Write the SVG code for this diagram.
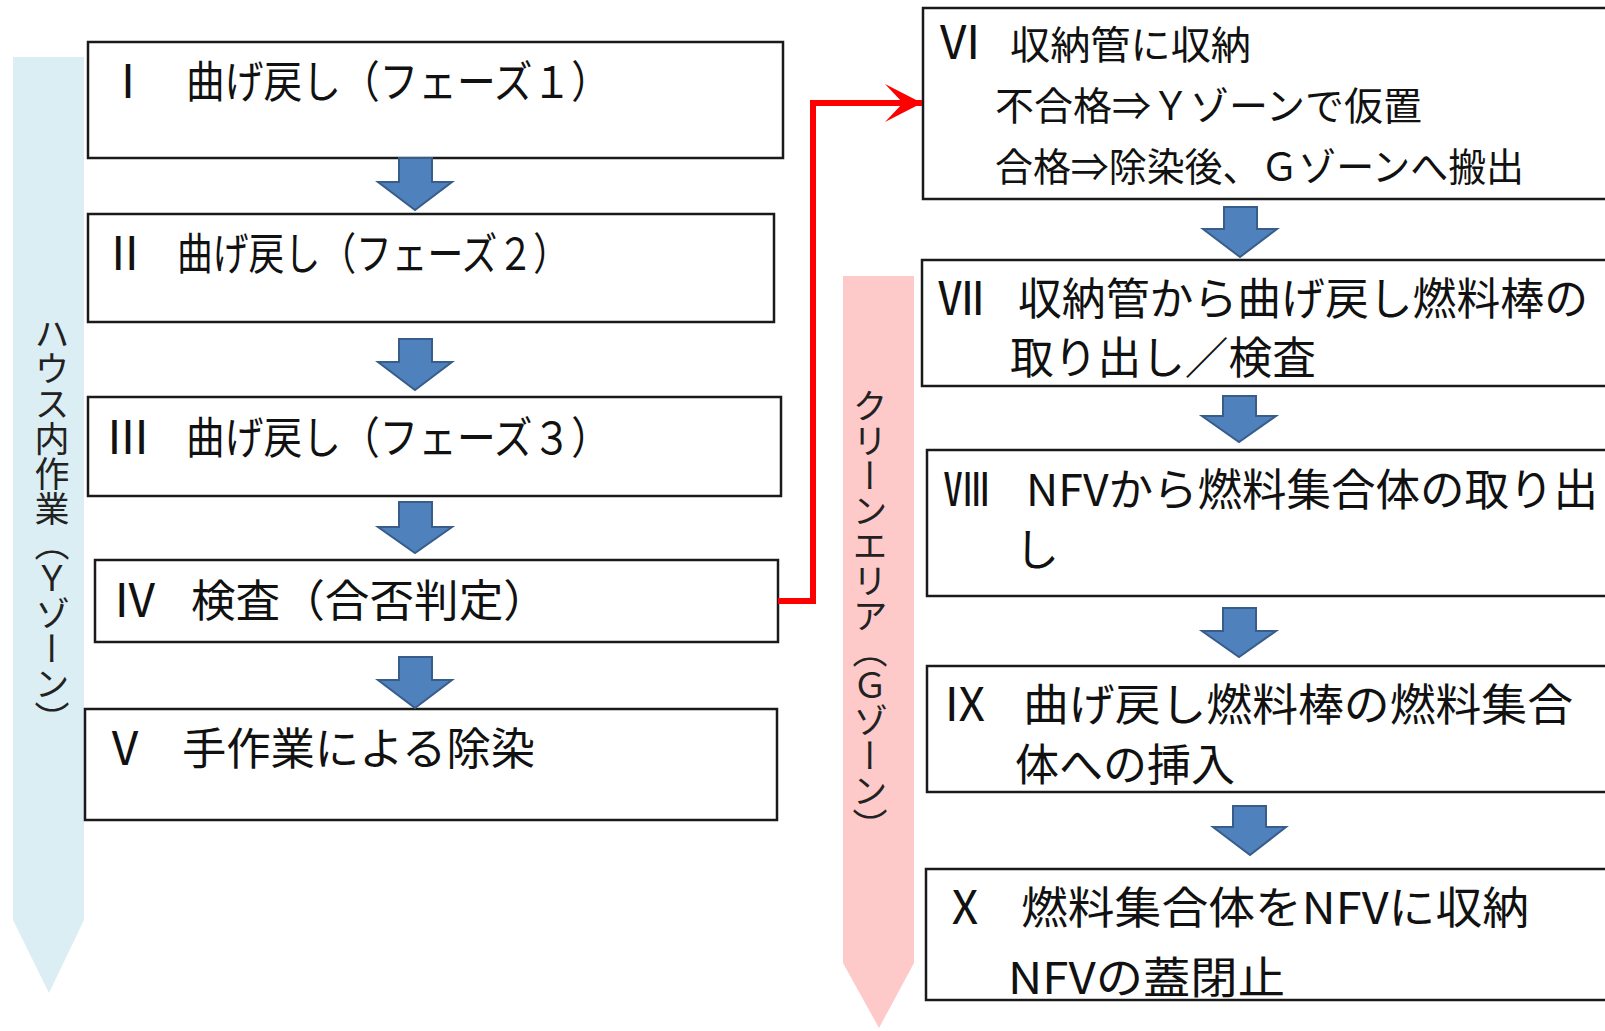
<svg xmlns="http://www.w3.org/2000/svg" width="1605" height="1031" viewBox="0 0 1605 1031">
<style>
  .box { fill: #ffffff; stroke: #1a1a1a; stroke-width: 2.5; }
  .t { font-family: "Noto Sans CJK JP", "Noto Sans", sans-serif; fill: #111111; font-size: 44px; }
  .s { font-size: 39px; }
  .num { text-anchor: middle; font-size: 46px; }
  .vt { font-family: "Noto Sans CJK JP", sans-serif; fill: #222222; font-size: 35px; writing-mode: vertical-rl; }
  .barrow { fill: #4F81BD; stroke: #385D8A; stroke-width: 2; }
  .red { fill: none; stroke: #FF0000; stroke-width: 6; }
</style>
<defs>
  <marker id="redHead" viewBox="0 0 38 40" refX="37" refY="20" markerWidth="38" markerHeight="40" markerUnits="userSpaceOnUse" orient="auto">
    <path d="M0,1 L37,20 L0,39 L18,20 Z" fill="#FF0000"/>
  </marker>
</defs>
<rect width="1605" height="1031" fill="#ffffff"/>

<g id="zone-y">
  <polygon points="13,57 84,57 84,920 49,993 13,920" fill="#DBEEF4"/>
  <text class="vt" x="52" y="316">ハウス内作業（Ｙゾーン）</text>
</g>
<g id="zone-g">
  <polygon points="843,276 914,276 914,963 879,1028 843,963" fill="#FDC9C9"/>
  <text class="vt" x="870" y="388">クリーンエリア（Ｇゾーン）</text>
</g>

<g id="node-1">
  <rect class="box" x="88" y="42" width="695" height="116"/>
  <text class="t num" x="128" y="98">Ⅰ</text>
  <text class="t" x="186" y="98" textLength="424" lengthAdjust="spacingAndGlyphs">曲げ戻し（フェーズ１）</text>
</g>
<g id="node-2">
  <rect class="box" x="88" y="214" width="686" height="108"/>
  <text class="t num" x="125" y="270">Ⅱ</text>
  <text class="t" x="177" y="270" textLength="392" lengthAdjust="spacingAndGlyphs">曲げ戻し（フェーズ２）</text>
</g>
<g id="node-3">
  <rect class="box" x="88" y="397" width="693" height="99"/>
  <text class="t num" x="128" y="454">Ⅲ</text>
  <text class="t" x="186" y="454" textLength="424" lengthAdjust="spacingAndGlyphs">曲げ戻し（フェーズ３）</text>
</g>
<g id="node-4">
  <rect class="box" x="95" y="560" width="683" height="82"/>
  <text class="t num" x="135" y="617">Ⅳ</text>
  <text class="t" x="191" y="617" textLength="357" lengthAdjust="spacingAndGlyphs">検査（合否判定）</text>
</g>
<g id="node-5">
  <rect class="box" x="85" y="709" width="692" height="111"/>
  <text class="t num" x="125" y="765">Ⅴ</text>
  <text class="t" x="182" y="765" textLength="353" lengthAdjust="spacingAndGlyphs">手作業による除染</text>
</g>

<g id="node-6">
  <rect class="box" x="923" y="8" width="700" height="191"/>
  <text class="t s num" x="960" y="59">Ⅵ</text>
  <text class="t s" x="1010" y="59" textLength="241" lengthAdjust="spacingAndGlyphs">収納管に収納</text>
  <text class="t s" x="995" y="120" textLength="427" lengthAdjust="spacingAndGlyphs">不合格⇒Ｙゾーンで仮置</text>
  <text class="t s" x="995" y="181" textLength="529" lengthAdjust="spacingAndGlyphs">合格⇒除染後、Ｇゾーンへ搬出</text>
</g>
<g id="node-7">
  <rect class="box" x="922" y="260" width="700" height="126"/>
  <text class="t num" x="961" y="315">Ⅶ</text>
  <text class="t" x="1018" y="315" textLength="570" lengthAdjust="spacingAndGlyphs">収納管から曲げ戻し燃料棒の</text>
  <text class="t" x="1010" y="374" textLength="306" lengthAdjust="spacingAndGlyphs">取り出し／検査</text>
</g>
<g id="node-8">
  <rect class="box" x="927" y="450" width="700" height="146"/>
  <text class="t num" x="967" y="506">Ⅷ</text>
  <text class="t" x="1026" y="506" textLength="572" lengthAdjust="spacingAndGlyphs">NFVから燃料集合体の取り出</text>
  <text class="t" x="1015" y="566">し</text>
</g>
<g id="node-9">
  <rect class="box" x="927" y="666" width="700" height="126"/>
  <text class="t num" x="965" y="721">Ⅸ</text>
  <text class="t" x="1023" y="721" textLength="550" lengthAdjust="spacingAndGlyphs">曲げ戻し燃料棒の燃料集合</text>
  <text class="t" x="1015" y="781" textLength="220" lengthAdjust="spacingAndGlyphs">体への挿入</text>
</g>
<g id="node-10">
  <rect class="box" x="926" y="869" width="700" height="131"/>
  <text class="t num" x="965" y="924">Ⅹ</text>
  <text class="t" x="1021" y="924" textLength="508" lengthAdjust="spacingAndGlyphs">燃料集合体をNFVに収納</text>
  <text class="t" x="1008" y="994" textLength="277" lengthAdjust="spacingAndGlyphs">NFVの蓋閉止</text>
</g>

<g id="connectors">
  <polygon class="barrow" points="399,158 432,158 432,182 452,182 415,210 378,182 399,182"/>
  <polygon class="barrow" points="399,339 432,339 432,362 452,362 415,390 378,362 399,362"/>
  <polygon class="barrow" points="399,502 432,502 432,527 452,527 415,553 378,527 399,527"/>
  <polygon class="barrow" points="399,657 432,657 432,680 452,680 415,708 378,680 399,680"/>
  <polygon class="barrow" points="1224,207 1257,207 1257,229 1277,229 1240,257 1203,229 1224,229"/>
  <polygon class="barrow" points="1223,396 1256,396 1256,416 1276,416 1239,442 1202,416 1223,416"/>
  <polygon class="barrow" points="1223,608 1256,608 1256,631 1276,631 1239,657 1202,631 1223,631"/>
  <polygon class="barrow" points="1233,806 1266,806 1266,827 1286,827 1250,855 1213,827 1233,827"/>
  <polyline class="red" points="778,601 813,601 813,103 922,103" marker-end="url(#redHead)"/>
</g>
</svg>
